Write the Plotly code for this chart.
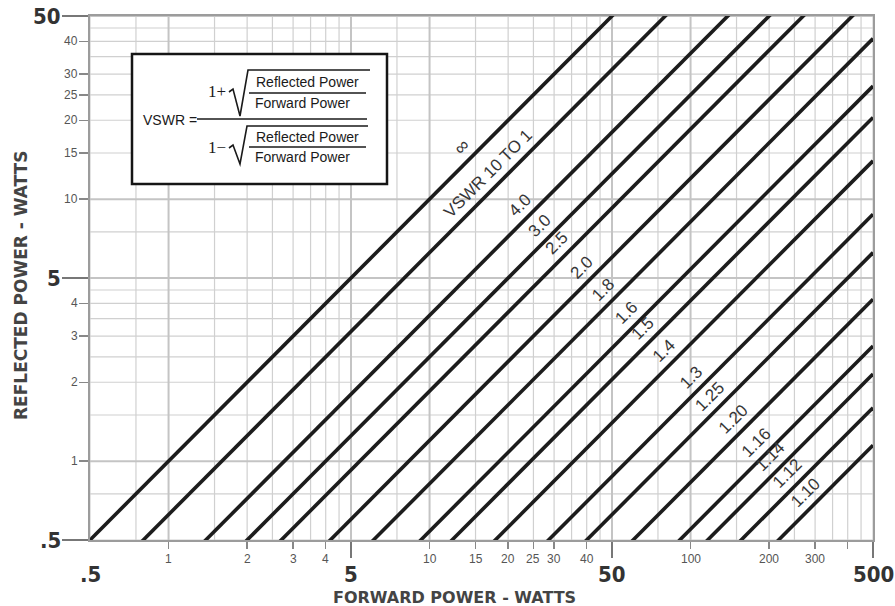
import math
import plotly.graph_objects as go

# ---------------- data ----------------
vswr_labels = ["∞", "VSWR 10 TO 1", "4.0", "3.0", "2.5", "2.0", "1.8", "1.6",
               "1.5", "1.4", "1.3", "1.25", "1.20", "1.16", "1.14", "1.12", "1.10"]
# reflected / forward power ratio of each VSWR line
power_ratio = [1.0, 0.625, 0.36, 0.25, 0.185, 0.12, 0.082, 0.054,
               0.041, 0.028, 0.0175, 0.0125, 0.0083, 0.0055, 0.0043, 0.0032, 0.0023]
forward_span = [0.5, 500]          # forward power range of the chart (W)
reflected_span = [0.5, 50]         # reflected power range of the chart (W)

grid_values = [0.5, 0.75, 1, 1.5, 2, 2.5, 3, 3.5, 4, 4.5, 5, 7.5, 10, 15, 20, 25,
               30, 35, 40, 45, 50, 75, 100, 150, 200, 250, 300, 350, 400, 450, 500]
grid_major = [1, 5, 10, 50, 100]

x_big_ticks = [0.5, 5, 50, 500]
x_big_labels = [".5", "5", "50", "500"]
x_small_ticks = [1, 2, 3, 4, 10, 15, 20, 25, 30, 40, 100, 200, 300, 400]
x_small_labels = ["1", "2", "3", "4", "10", "15", "20", "25", "30", "40", "100", "200", "300", ""]

y_big_ticks = [0.5, 5, 50]
y_big_labels = [".5", "5", "50"]
y_small_ticks = [1, 2, 3, 4, 10, 15, 20, 25, 30, 40]
y_small_labels = ["1", "2", "3", "4", "10", "15", "20", "25", "30", "40"]

# ---------------- layout helpers ----------------
W, H = 895, 606
ML, MR, MT, MB = 90, 22, 16, 66
PW, PH = W - ML - MR, H - MT - MB


def pxx(x):
    return (x - ML) / PW


def pxy(y):
    return (H - MB - y) / PH


LINE_FONT = "Liberation Sans, Arial, Helvetica, sans-serif"
NARROW = "Liberation Sans Narrow, Arial Narrow, DejaVu Sans Condensed, Roboto Condensed, sans-serif"
WIDE = "DejaVu Sans, Verdana, sans-serif"

fig = go.Figure()

# grid lines
for vals, width, color in [([v for v in grid_values if v not in grid_major], 1.2, "#d0d0d0"),
                           (grid_major, 2.0, "#c4c4c4")]:
    gx, gy = [], []
    for v in vals:
        gx += [v, v, None]
        gy += [reflected_span[0], reflected_span[1], None]
        if reflected_span[0] <= v <= reflected_span[1]:
            gx += [forward_span[0], forward_span[1], None]
            gy += [v, v, None]
    fig.add_trace(go.Scatter(x=gx, y=gy, mode="lines",
                             line=dict(color=color, width=width),
                             hoverinfo="skip", showlegend=False))

# VSWR lines
for lab, r in zip(vswr_labels, power_ratio):
    fig.add_trace(go.Scatter(x=forward_span, y=[f * r for f in forward_span],
                             mode="lines", name=lab,
                             line=dict(color="#1c1c1c", width=3.6),
                             hoverinfo="skip", showlegend=False))

annotations = []
LABEL_PRODUCT = 210.0  # labels sit where forward*reflected is constant
for lab, r in zip(vswr_labels, power_ratio):
    fx = math.sqrt(LABEL_PRODUCT / r)
    fy = fx * r
    annotations.append(dict(x=math.log10(fx), y=math.log10(fy), xref="x", yref="y",
                            text=lab, showarrow=False, textangle=-45,
                            xshift=-10, yshift=10,
                            font=dict(family=LINE_FONT, size=17 if lab != "∞" else 19,
                                      color="#363636")))

# tick labels
for v, t in zip(x_small_ticks, x_small_labels):
    annotations.append(dict(x=math.log10(v), y=0, xref="x", yref="paper", text=t,
                            showarrow=False, yanchor="middle", yshift=-19,
                            font=dict(family=LINE_FONT, size=12, color="#555555")))
for v, t in zip(x_big_ticks, x_big_labels):
    annotations.append(dict(x=math.log10(v), y=0, xref="x", yref="paper", text="<b>%s</b>" % t,
                            showarrow=False, yanchor="middle", yshift=-34, borderpad=0,
                            font=dict(family=NARROW, size=22, color="#333333")))
for v, t in zip(y_small_ticks, y_small_labels):
    annotations.append(dict(x=0, y=math.log10(v), xref="paper", yref="y", text=t,
                            showarrow=False, xanchor="right", xshift=-10,
                            font=dict(family=LINE_FONT, size=12, color="#555555")))
for v, t in zip(y_big_ticks, y_big_labels):
    annotations.append(dict(x=0, y=math.log10(v), xref="paper", yref="y", text="<b>%s</b>" % t,
                            showarrow=False, xanchor="right", xshift=-27,
                            font=dict(family=NARROW, size=22, color="#333333")))

# axis titles
annotations.append(dict(x=pxx(454), y=pxy(597), xref="paper", yref="paper",
                        xanchor="center", yanchor="middle", borderpad=0,
                        text="<b>FORWARD POWER - WATTS</b>", showarrow=False,
                        font=dict(family=WIDE, size=16, color="#444444")))
annotations.append(dict(x=pxx(21), y=pxy(286), xref="paper", yref="paper",
                        xanchor="center", yanchor="middle",
                        text="<b>REFLECTED POWER - WATTS</b>", showarrow=False, textangle=-90,
                        font=dict(family=WIDE, size=17, color="#444444")))

# formula box
FS = "Liberation Sans, Arial, sans-serif"
SERIF = "Liberation Serif, Times New Roman, serif"


def txt(x, y, t, size=13, family=FS, anchor="center"):
    annotations.append(dict(x=pxx(x), y=pxy(y), xref="paper", yref="paper", text=t,
                            showarrow=False, xanchor=anchor, yanchor="middle",
                            font=dict(family=family, size=size, color="#1a1a1a")))


txt(141, 120, "VSWR =", 14, anchor="left")
txt(217, 91, "1+", 17, SERIF)
txt(217, 147, "1−", 17, SERIF)
txt(307, 82, "Reflected Power", 14)
txt(302, 103, "Forward Power", 14)
txt(307, 137, "Reflected Power", 14)
txt(302, 157, "Forward Power", 14)

shapes = [
    dict(type="rect", xref="paper", yref="paper", x0=pxx(132), x1=pxx(387),
         y0=pxy(184), y1=pxy(54), line=dict(color="#151515", width=2.5),
         fillcolor="white", layer="above"),
    dict(type="line", xref="paper", yref="paper", x0=pxx(197), x1=pxx(367),
         y0=pxy(119), y1=pxy(119), line=dict(color="#1a1a1a", width=1.5), layer="above"),
    dict(type="line", xref="paper", yref="paper", x0=pxx(249), x1=pxx(366),
         y0=pxy(93), y1=pxy(93), line=dict(color="#1a1a1a", width=1.3), layer="above"),
    dict(type="line", xref="paper", yref="paper", x0=pxx(249), x1=pxx(366),
         y0=pxy(147), y1=pxy(147), line=dict(color="#1a1a1a", width=1.3), layer="above"),
]


def radical(pts):
    p = "M " + " L ".join("%f,%f" % (pxx(a), pxy(b)) for a, b in pts)
    return dict(type="path", xref="paper", yref="paper", path=p,
                line=dict(color="#1a1a1a", width=1.6), layer="above")


shapes.append(radical([(229, 92), (233, 89), (240, 116), (248, 70), (370, 70)]))
shapes.append(radical([(229, 148), (233, 145), (240, 164), (247, 126), (368, 126)]))

axis_common = dict(type="log", showgrid=False, zeroline=False, showline=True,
                   linecolor="#9c9c9c", linewidth=2, mirror=True,
                   showticklabels=False, ticks="outside", tickcolor="#777777")

fig.update_layout(
    width=W, height=H,
    margin=dict(l=ML, r=MR, t=MT, b=MB),
    paper_bgcolor="white", plot_bgcolor="white",
    showlegend=False, hovermode=False,
    xaxis=dict(axis_common, range=[math.log10(forward_span[0]), math.log10(forward_span[1])],
               tickvals=x_big_ticks[1:], ticklen=16, tickwidth=2,
               minor=dict(tickvals=x_small_ticks, ticks="outside", ticklen=7,
                          tickwidth=1.5, tickcolor="#888888", showgrid=False)),
    yaxis=dict(axis_common, range=[math.log10(reflected_span[0]), math.log10(reflected_span[1])],
               tickvals=y_big_ticks, ticklen=26, tickwidth=2,
               minor=dict(tickvals=y_small_ticks, ticks="outside", ticklen=9,
                          tickwidth=1.5, tickcolor="#888888", showgrid=False)),
    annotations=annotations,
    shapes=shapes,
)

fig.write_html("out.html", config={"displayModeBar": False, "staticPlot": True},
               post_script="document.body.style.margin='0px';")
